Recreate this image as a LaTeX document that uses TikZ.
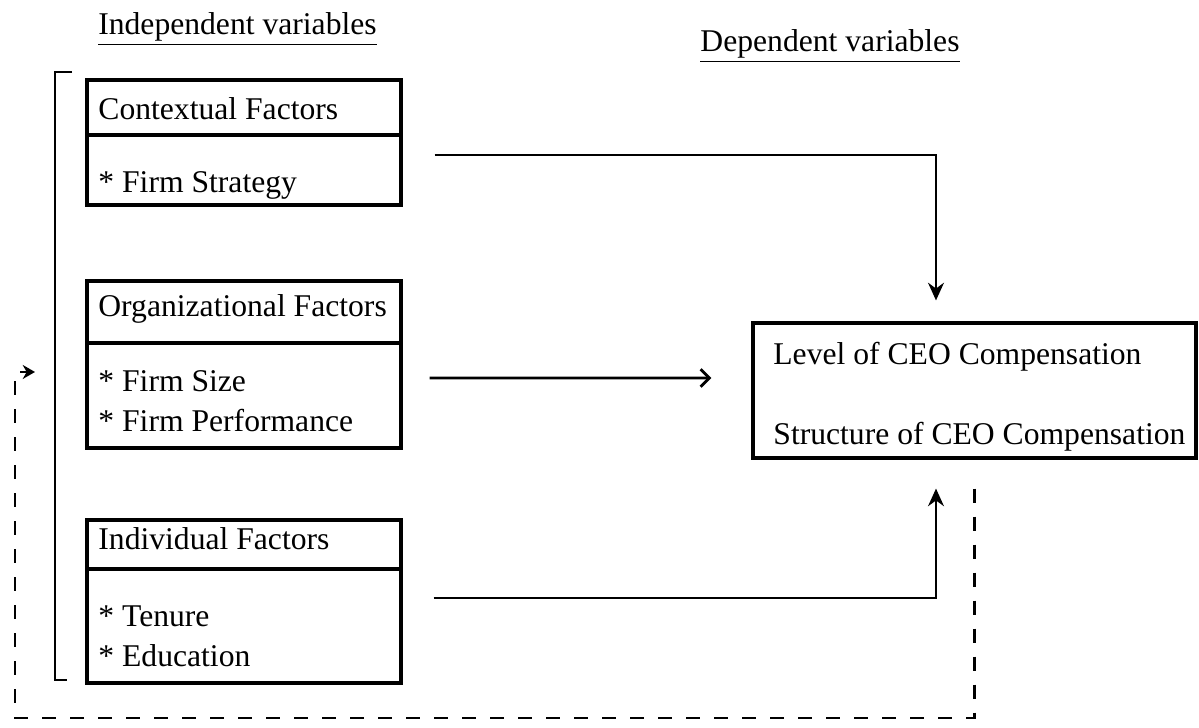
\documentclass[tikz,border=0pt]{standalone}
\usepackage{fontspec}
\setmainfont{Liberation Serif}
\usetikzlibrary{arrows.meta, positioning}

\begin{document}
\begin{tikzpicture}[
    line width=1.6pt,
    fbox/.style={draw, line width=1.8pt, minimum width=6.28cm, inner sep=0pt},
    dvbox/.style={draw, line width=1.8pt, minimum width=8.86cm, minimum height=2.7cm, inner sep=0pt},
    txt/.style={anchor=base west, inner sep=0pt, font=\fontsize{18}{22}\selectfont},
    hdr/.style={anchor=base, inner sep=0pt, font=\fontsize{18}{22}\selectfont},
    arr/.style={-{Stealth[length=10pt,width=9pt]}},
    barb/.style={-{Straight Barb[length=5pt,width=10pt]}},
    fbline/.style={dash pattern=on 0.28cm off 0.28cm, line width=1.4pt},
]
    \useasboundingbox (0,0) rectangle (23.98,14.56);

    \node[hdr] (indep) at (4.75,13.86) {\underline{Independent variables}};
    \node[hdr] (dep) at (16.6,13.52) {\underline{Dependent variables}};

    % bracket round the three boxes
    \draw (1.44,13.12) -- (1.10,13.12) -- (1.10,0.96) -- (1.34,0.96);

    \node[fbox, minimum height=2.5cm] (ctx) at (4.88,11.71) {};
    \draw[line width=1.8pt] (ctx.west |- 0,11.86) -- (ctx.east |- 0,11.86);
    \node[txt] (ctxT) at (1.94,12.16) {Contextual Factors};
    \node[txt] (ctxA) at (1.94,10.70) {* Firm Strategy};

    \node[fbox, minimum height=3.34cm] (org) at (4.88,7.27) {};
    \draw[line width=1.8pt] (org.west |- 0,7.70) -- (org.east |- 0,7.70);
    \node[txt] (orgT) at (1.94,8.22) {Organizational Factors};
    \node[txt] (orgA) at (1.94,6.72) {* Firm Size};
    \node[txt] (orgB) at (1.94,5.92) {* Firm Performance};

    \node[fbox, minimum height=3.26cm] (ind) at (4.88,2.53) {};
    \draw[line width=1.8pt] (ind.west |- 0,3.18) -- (ind.east |- 0,3.18);
    \node[txt] (indT) at (1.94,3.56) {Individual Factors};
    \node[txt] (indA) at (1.94,2.02) {* Tenure};
    \node[txt] (indB) at (1.94,1.22) {* Education};

    \node[dvbox] (dv) at (19.49,6.75) {};
    \node[txt] (dvA) at (15.44,7.26) {Level of CEO Compensation};
    \node[txt] (dvB) at (15.44,5.66) {Structure of CEO Compensation};

    \coordinate (fbk) at (0.70,7.12);

    \draw[arr, shorten >=0.42cm] ([shift={(0.64,-0.25)}]ctx.east) -| ([xshift=-0.77cm]dv.north);
    \draw[barb] ([shift={(0.54,-0.27)}]org.east) -- ([shift={(-0.8,0.25)}]dv.west);
    \draw[arr, shorten >=0.58cm] ([shift={(0.62,0.07)}]ind.east) -| ([xshift=-0.77cm]dv.south);
    \draw[fbline, -{Stealth[length=7pt,width=8pt]}, shorten <=0.58cm] (dv.south) |- (0.30,0.20) |- (fbk);
\end{tikzpicture}
\end{document}
